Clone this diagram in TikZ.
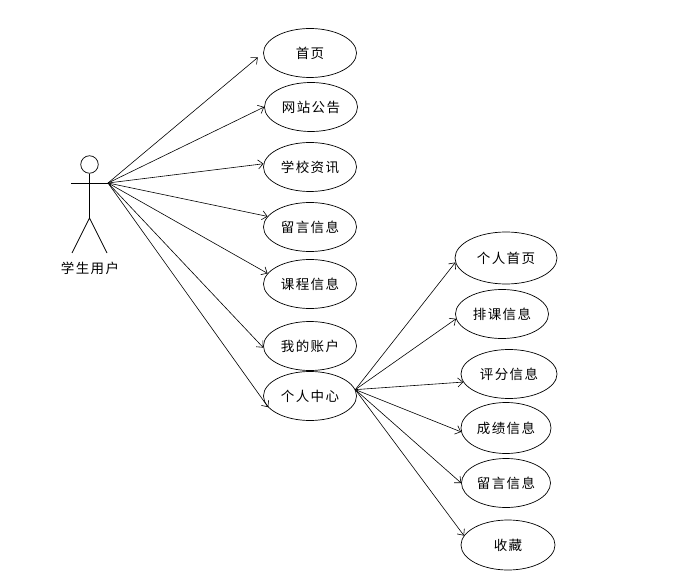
\documentclass[tikz,border=0pt]{standalone}
\usepackage{fontspec}
\setmainfont{Noto Sans CJK SC}[LetterSpace=10]
\usetikzlibrary{shapes.geometric,arrows.meta}
\begin{document}
\begin{tikzpicture}[x=1pt,y=-1pt,
  uc/.style={ellipse,draw,line width=0.7pt,minimum width=93pt,minimum height=49pt,inner sep=0pt,font=\fontsize{13.5}{15}\selectfont},
  link/.style={line width=0.6pt,-{Straight Barb[length=5pt,width=9pt,line width=0.6pt]}},
  stick/.style={line width=0.7pt}]
\useasboundingbox (0,0) rectangle (674,577);
% actor
\node[circle,draw,line width=0.7pt,minimum size=17.5pt,inner sep=0pt] (head) at (89.5,164.5) {};
\coordinate (neck) at (89.5,173.5);
\coordinate (hip) at (89.5,218);
\coordinate (lhand) at (71,183);
\coordinate (hand) at (108,183);
\coordinate (lfoot) at (72,253);
\coordinate (rfoot) at (107,253);
\draw[stick] (head.south) -- (hip);
\draw[stick] (lhand) -- (hand);
\draw[stick] (lfoot) -- (hip) -- (rfoot);
\node[font=\fontsize{13.5}{15}\selectfont] (actor) at (90,268) {学生用户};
% left use cases
\node[uc] (n1) at (310,53) {首页};
\node[uc] (n2) at (311,107) {网站公告};
\node[uc] (n3) at (310,167) {学校资讯};
\node[uc] (n4) at (310,227) {留言信息};
\node[uc] (n5) at (310,284) {课程信息};
\node[uc] (n6) at (310,346) {我的账户};
\node[uc] (n7) at (310,396) {个人中心};
% right use cases
\node[uc,minimum width=102pt,minimum height=52pt] (m1) at (506,258) {个人首页};
\node[uc] (m2) at (502,314) {排课信息};
\node[uc,minimum width=96pt] (m3) at (509,374) {评分信息};
\node[uc,minimum width=90pt,minimum height=51pt] (m4) at (506,428) {成绩信息};
\node[uc,minimum width=89pt] (m5) at (506,483) {留言信息};
\node[uc,minimum width=94pt,minimum height=50pt] (m6) at (508,545) {收藏};
% connectors
\draw[link,shorten >=7pt] (hand) -- (n1.west);
\draw[link] (hand) -- (n2.west);
\draw[link] (hand) -- (n3.176);
\draw[link] (hand) -- (n4.166);
\draw[link] (hand) -- (n5.166);
\draw[link] (hand) -- (n6.182);
\draw[link] (hand) -- (n7.195);
\draw[link] (n7.8) -- (m1.185);
\draw[link] (n7.8) -- (m2.186);
\draw[link] (n7.8) -- (m3.190);
\draw[link] (n7.8) -- (m4.185);
\draw[link] (n7.8) -- (m5.180);
\draw[link] (n7.8) -- (m6.168);
\end{tikzpicture}
\end{document}
